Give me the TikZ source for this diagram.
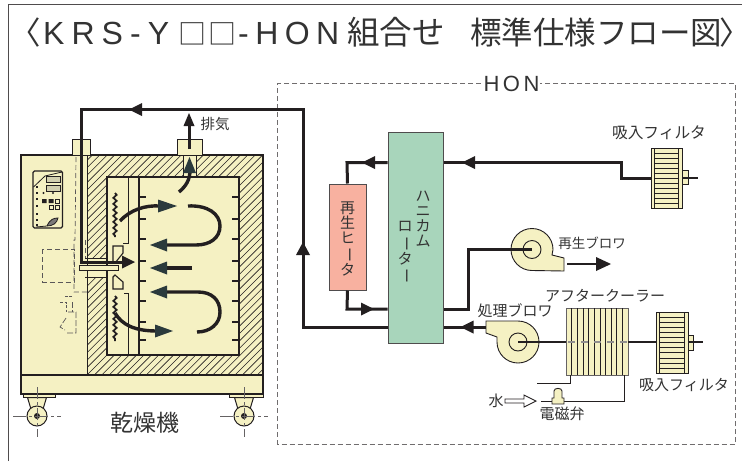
\documentclass[tikz,border=0pt]{standalone}
\usepackage{fontspec}
\usepackage{graphicx}
\setmainfont{Noto Sans CJK JP}
\newfontfamily\latinf{Liberation Sans}
\usetikzlibrary{arrows.meta,decorations.pathmorphing,calc}
\definecolor{cream}{HTML}{F5F1C3}
\definecolor{rotorc}{HTML}{A8D5BB}
\definecolor{heatc}{HTML}{F8B1A0}
\definecolor{ink}{HTML}{231F20}
\definecolor{headc}{HTML}{2B3A3C}
\definecolor{txtc}{HTML}{333333}
\tikzset{
 flow/.style={draw=ink,line width=3pt,line join=miter},
 thinl/.style={draw=ink,line width=0.9pt},
 body/.style={draw=ink,line width=1pt,fill=cream},
 dashl/.style={draw=ink!75,line width=0.7pt,dash pattern=on 5pt off 3pt},
 tri/.style={fill=ink,draw=none},
 air/.style={draw=ink,line width=3.4pt},
 headd/.style={fill=headc,draw=none},
 lab/.style={text=txtc,inner sep=0pt,font=\fontsize{#1}{#1}\selectfont},
 tick/.style={draw=ink,line width=2.8pt},
}
\newcommand{\headR}[2]{\path[tri] (#1,#2) -- ++(-13,-6.5) -- ++(0,13) -- cycle;}
\newcommand{\headL}[2]{\path[tri] (#1,#2) -- ++(13,-6.5) -- ++(0,13) -- cycle;}
\newcommand{\filterunit}[5]{%
  \path[body,line width=0.9pt] (#1,#3) rectangle (#2,#4);
  \draw[thinl,line width=.7pt] ({#1+3.5},#3) -- ({#1+3.5},#4) ({#2-3.5},#3) -- ({#2-3.5},#4);
  \foreach \i in {1,...,#5}{\draw[thinl,line width=.5pt] ({#1+3.5},{#3+(#4-#3)*\i/(#5+1)}) -- ({#2-3.5},{#3+(#4-#3)*\i/(#5+1)});}
}
\newcommand{\vbar}{\rotatebox[origin=c]{-90}{ー}}
\begin{document}
\begin{tikzpicture}[x=1pt,y=-1pt]
\useasboundingbox (0,0) rectangle (742,461);
\fill[white] (0,0) rectangle (742,461);
% frame
\draw[draw=ink!80,line width=.9pt] (8.5,461) -- (8.5,4.5) -- (742,4.5);
% title
\node[lab=31.5,anchor=base west] (title) at (9,44) {\makebox[34pt][l]{〈}\makebox[136pt][l]{\fontsize{32}{32}\latinf\addfontfeature{LetterSpace=22}KRS-Y}\makebox[59pt][l]{\kern-1pt\fontsize{28}{28}\selectfont □\kern2pt□}\makebox[109pt][l]{\fontsize{32}{32}\latinf\addfontfeature{LetterSpace=20}-HON}\makebox[123pt][l]{\fontsize{32.5}{32}\selectfont 組合せ}\makebox[249pt][l]{標準仕様フロー図}\makebox[20pt][l]{〉}};
% HON box
\draw[dashl,draw=ink!65] (481,83.5) -- (277.5,83.5) -- (277.5,444) -- (735.5,444) -- (735.5,83.5) -- (540,83.5);
\node[lab=22,anchor=center] (hon) at (511.5,84) {{\latinf\addfontfeature{LetterSpace=16}HON}};

% --- dryer ---
\path[body,line width=1.3pt] (21,155) rectangle (263,375);
\begin{scope}
\clip (87,155) rectangle (263,375);
\foreach \k in {0,...,56}{\draw[ink,line width=.6pt] ({-140+\k*7.4},380) -- ++(230,-230);}
\end{scope}
\draw[ink,line width=1pt] (87,155) -- (87,375);
\path[body,line width=1.5pt] (107,177) rectangle (239,355);
\draw[ink,line width=1.3pt] (21,155) rectangle (263,375);
% exhaust slit
\path[fill=cream] (183,155.6) rectangle (196,176);
\draw[thinl] (183,155) -- (183,177) (196,155) -- (196,177);
% ports
\path[body] (72.5,139) rectangle (90,155);
\path[body] (177,139) rectangle (202,155);
% fan gap in the wall
\path[fill=cream] (87.5,258) rectangle (106,277);
\draw[thinl] (85,258) -- (107,258) (85,277) -- (107,277);
% base
\path[body,line width=1.1pt] (21,375) rectangle (263,394);
% casters
\foreach \cx/\px/\qx in {37/23/55,244/229.5/263}{
  \path[body] (\px,394) rectangle (\qx,397.5);
  \path[body] ({\cx-9.5},397.5) -- ({\cx+9.5},397.5) -- ({\cx+4},416) -- ({\cx-4},416) -- cycle;
  \path[body] (\cx,416) circle (10);
  \fill[ink] (\cx,416) circle (3);
  \draw[ink!70,line width=.8pt,dash pattern=on 13pt off 3pt on 3pt off 3pt] ({\cx-24},416) -- ({\cx+24},416);
  \draw[ink!70,line width=.8pt,dash pattern=on 12pt off 3pt on 3pt off 3pt] (\cx,387) -- (\cx,437);
}
% panel
\draw[ink,line width=1.2pt,fill=cream,rounded corners=1.5pt] (33,171) rectangle (62.5,228);
\draw[ink,line width=.8pt] (33.5,187) -- (45,176) -- (62,172);
\foreach \yy in {179,188}{\path[draw=ink,line width=.8pt,fill=cream!70!gray] (46,{\yy-2.5}) rectangle (60,{\yy+3});}
\foreach \pp in {186,192,198,205,213,219,224}{\fill[ink] (35.5,\pp) rectangle (37.5,{\pp+1.8});}
\fill[ink] (43.5,193) circle (1.2) (53,193) circle (1.2);
\fill[ink] (42,199) rectangle (46.5,203) (48.5,199) rectangle (53.5,203);
\draw[ink,line width=1pt] (55.5,199.5) rectangle (59,203) (49,205.5) rectangle (53,209) (55.5,205.5) rectangle (59,209);
\draw[ink,line width=.8pt,fill=ink!60] (47,226) .. controls (50,219) and (54,218) .. (58,218) .. controls (57,223) and (53,226) .. (47,226);
\draw[ink,line width=.8pt] (36,227) -- (47,226);
% dashed internals
\draw[dashl] (42.5,249) rectangle (74,282);
\draw[dashl] (76,157) -- (75,240) -- (74,240) -- (74,292) -- (87,292);
\draw[dashl] (85,240) -- (85,258);
\draw[dashl,dash pattern=on 3pt off 1.5pt] (60,302) -- (66,302) -- (66,312) (72,296) -- (65,296);
\draw[dashl,dash pattern=on 6pt off 2pt] (72,302) -- (72,312);
\draw[dashl,dash pattern=on 6pt off 2pt] (68,312) -- (76,312) -- (76,333) -- (66,333) (66,318) -- (60,327) -- (65,330);
% partitions and rack
\draw[thinl,line width=1pt] (128,177) -- (128,243) -- (123,243);
\draw[thinl,line width=1pt] (124,293) -- (128,293) -- (128,355);
\draw[ink,line width=1.2pt] (139,177) -- (139,355);
\foreach \yy in {197,219,239,261,281,301,322,340}{
  \draw[tick] (139,\yy) -- (146,\yy);
  \draw[tick] (232,\yy) -- (239,\yy);
}
% heaters
\draw[ink,line width=1.8pt,decorate,decoration={snake,amplitude=1.6pt,segment length=6pt}] (115,193) -- (115,237);
\draw[ink,line width=1.8pt,decorate,decoration={snake,amplitude=1.6pt,segment length=6pt}] (115,296) -- (115,341);
% fan blades
\path[body,line width=1.1pt] (113,246) -- (123,246) -- (123,253) -- (115,263) -- (113,263) -- cycle;
\path[body,line width=1.1pt] (113,277) -- (115,275) -- (123,282) -- (123,289) -- (113,289) -- cycle;
% airflow arrows
\draw[air] (120,221) .. controls (130,210) and (145,205) .. (160,206);
\path[headd] (177,206) -- (158,199.5) -- (158,212.5) -- cycle;
\draw[air] (188,206) .. controls (208,205) and (220,214) .. (220,226) .. controls (220,238) and (210,245) .. (196,245) -- (165,245);
\path[headd] (150,245) -- (167,238.5) -- (167,251.5) -- cycle;
\draw[air] (192,268) -- (165,268);
\path[headd] (150,268) -- (167,261.5) -- (167,274.5) -- cycle;
\draw[air] (165,292) -- (198,292) .. controls (212,292) and (220,300) .. (220,312) .. controls (220,324) and (210,332) .. (197,332);
\path[headd] (150,292) -- (167,285.5) -- (167,298.5) -- cycle;
\draw[air] (115,313) .. controls (122,325) and (135,331) .. (157,331);
\path[headd] (173,331) -- (155,324.5) -- (155,337.5) -- cycle;
\draw[air] (179,192) .. controls (186,186) and (190,180) .. (190,170);
\path[headd] (189.5,157) -- (183,173) -- (196,173) -- cycle;

% --- components ---
\node[draw=ink!80,line width=1pt,fill=rotorc,minimum width=55pt,minimum height=211pt,inner sep=0pt] (rotor) at (415.5,237.5) {};
\node[draw=ink!80,line width=1pt,fill=heatc,minimum width=37pt,minimum height=106pt,inner sep=0pt] (heater) at (347.5,237) {};
\node[lab=15,align=center] (hl) at (347.5,239) {\fontsize{15}{16.6}\selectfont 再\\生\\ヒ\\\vbar\\タ};
\node[lab=15,align=center] (r1) at (423,219) {\fontsize{15}{15.5}\selectfont ハ\\ニ\\カ\\ム};
\node[lab=15,align=center] (r2) at (405,252.5) {\fontsize{15}{15.5}\selectfont ロ\\\vbar\\タ\\\vbar};
\coordinate (exitp) at (81,262);
% main flow lines
\draw[flow] (rotor.west |- 0,327) -- (303,327) -- (303,109.5) -- (81,109.5) -- (exitp) -- (125,262);
\path[tri] (129,109.5) -- (142,103) -- (142,116) -- cycle;
\path[tri] (303,242) -- (296,255) -- (310,255) -- cycle;
\path[tri] (135,262) -- (122,255.5) -- (122,268.5) -- cycle;
% shaft
\draw[ink,line width=1pt,fill=cream] (79,265) rectangle (118,270);
% exhaust arrow
\draw[flow] (189,149) -- (189,122);
\path[tri] (189,113) -- (183.5,126) -- (194.5,126) -- cycle;
\node[lab=14.5,anchor=center] (exh) at (215,124) {排気};
\node[lab=23,anchor=center] (dry) at (145,423) {乾燥機};
% rotor-heater
\draw[flow] (rotor.west |- 0,162.5) -- (347,162.5) -- (heater.north);
\headL{362}{162.5}
\draw[flow] (heater.south) -- (347,309) -- (rotor.west |- 0,309);
\headR{374}{309}
% intake filter top
\coordinate (filtTop) at (651,178);
\draw[flow] (rotor.east |- 0,162.5) -- (621,162.5) -- (621,178) -- (filtTop);
\headL{462}{162.5}
\filterunit{651}{682}{148}{208}{11}
\path[body,line width=.7pt] (682,170) rectangle (688,184);
\draw[flow,line width=2.2pt] (682,178) -- (698,178);
\node[lab=15.7,anchor=center] (fl1) at (659,133) {吸入フィルタ};
% regen blower
\path[body,line width=.9pt] (564,271) -- (532,270.5) .. controls (520.4,270.5) and (511,261.1) .. (511,249.5) .. controls (511,237.9) and (520.4,228.5) .. (532,228.5) .. controls (543.6,228.5) and (553,237.9) .. (553,249.5) -- (552,255) -- (564,258) -- cycle;
\path[draw=ink,line width=.9pt] (532,249.5) circle (9);
\draw[flow] (rotor.east |- 0,309) -- (468,309) -- (468,249.5) -- (532,249.5);
\draw[flow,line width=2.4pt] (567,264) -- (600,264);
\path[tri] (611,264) -- (596,257) -- (596,271) -- cycle;
\node[lab=13.5,anchor=center] (rb) at (592,243) {再生ブロワ};
% process blower
\draw[flow] (rotor.east |- 0,327) -- (490,327);
\headL{460.5}{327}
\path[body,line width=.9pt] (486,321) -- (518,321) .. controls (529.6,321) and (539,330.4) .. (539,342) .. controls (539,353.6) and (529.6,363) .. (518,363) .. controls (506.4,363) and (497,353.6) .. (497,342) -- (497,337) -- (486,333) -- cycle;
\path[draw=ink,line width=.9pt] (518,342) circle (9);
\node[lab=15,anchor=center] (pb) at (515,311) {処理ブロワ};
% cooler
\path[fill=cream,draw=ink!70,line width=.9pt] (566,308) rectangle (628,375);
\foreach \k in {1,...,10}{\draw[ink,line width=.6pt] ({566+\k*5.64},308) -- ({566+\k*5.64},375);}
\draw[flow,line width=2.4pt] (518,342) -- (566,342);
\draw[draw=ink!50,line width=2.4pt,dash pattern=on 7pt off 6pt] (568,342) -- (628,342);
\draw[flow,line width=2.4pt] (628,342) -- (656,342);
\node[lab=15,anchor=center] (ac) at (605,296) {アフタークーラー};
% lower filter
\filterunit{656}{688}{312}{373}{11}
\path[body,line width=.7pt] (688,335) rectangle (693,350);
\draw[flow,line width=2.2pt] (688,342) -- (703,342);
\node[lab=15,anchor=center] (fl2) at (684,385) {吸入フィルタ};
% water
\draw[thinl] (570,375) -- (570,383) -- (537,383);
\draw[thinl] (624.5,375) -- (624.5,401) -- (541,401);
\path[body,line width=.9pt] (552,404) -- (552,398) -- (554,398) -- (554,391) .. controls (554,387.5) and (562,387.5) .. (562,391) -- (562,398) -- (564,398) -- (564,404) -- cycle;
\draw[ink,line width=.9pt,fill=white] (505,399) -- (524,399) -- (524,395) -- (536,401) -- (524,407) -- (524,403) -- (505,403) -- cycle;
\node[lab=15,anchor=center] (mz) at (496,401) {水};
\node[lab=15,anchor=center] (dj) at (562,414) {電磁弁};
\end{tikzpicture}
\end{document}
